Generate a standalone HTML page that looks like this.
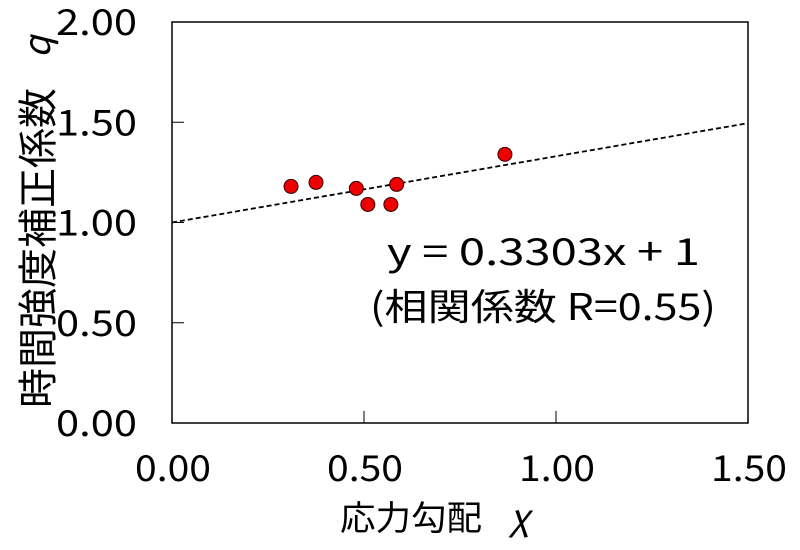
<!DOCTYPE html>
<html><head><meta charset="utf-8"><style>
body{margin:0;background:#fff;}
svg text{font-family:"Noto Sans CJK JP","Liberation Sans",sans-serif;fill:#000;}
</style></head><body>
<svg width="800" height="545">
<g id="g"></g>
</svg>
<script>
const xs=[0.31,0.375,0.48,0.51,0.57,0.585,0.867];
const ys=[1.18,1.20,1.17,1.09,1.09,1.19,1.34];
const xTicks=[0,0.5,1.0,1.5];
const yTicks=[0,0.5,1.0,1.5,2.0];
const slope=0.3303, intercept=1;
const L=172,R=748,T=22,B=423;
const X=v=>L+(v-0)/1.5*(R-L);
const Y=v=>B-(v/2)*(B-T);
const g=document.getElementById('g');
const NS='http://www.w3.org/2000/svg';
function mk(t,a,txt){const e=document.createElementNS(NS,t);for(const k in a)e.setAttribute(k,a[k]);if(txt!=null)e.textContent=txt;g.appendChild(e);return e;}
let e=mk('rect',{x:L,y:T,width:R-L,height:B-T,fill:'none',stroke:'#000','stroke-width':1.5});


xTicks.forEach(v=>{
 const l=mk('line',{x1:X(v),x2:X(v),y1:B,y2:B-12,stroke:'#000','stroke-width':1});
 
 
 const t=mk('text',{x:X(v)-37,y:B+58,'font-size':36,textLength:76,lengthAdjust:'spacingAndGlyphs'},v.toFixed(2));
 
 
});
yTicks.forEach(v=>{
 const l=mk('line',{x1:L,x2:L+12,y1:Y(v),y2:Y(v),stroke:'#000','stroke-width':1});
 
 
 const t=mk('text',{x:56,y:Y(v)+13,'font-size':36,textLength:81,lengthAdjust:'spacingAndGlyphs'},v.toFixed(2));
 
 
});
const tl=mk('line',{x1:X(0),y1:Y(intercept),x2:X(1.5),y2:Y(intercept+slope*1.5),stroke:'#000','stroke-width':1.8,'stroke-dasharray':'5,3'});


xs.forEach((v,i)=>{
 const c=mk('circle',{cx:X(v),cy:Y(ys[i]),r:7,fill:'#ee0000',stroke:'#300','stroke-width':1});
 
 
});
let t=mk('text',{x:387,y:265,'font-size':37,textLength:313,lengthAdjust:'spacingAndGlyphs'},'y = 0.3303x + 1');


t=mk('text',{x:370,y:320,'font-size':37,textLength:346,lengthAdjust:'spacingAndGlyphs'},'(相関係数 R=0.55)');


t=mk('text',{x:340,y:530,'font-size':34,textLength:142,lengthAdjust:'spacingAndGlyphs'},'応力勾配');


t=mk('text',{x:510,y:530,'font-size':36,'font-style':'italic','font-family':'Liberation Serif, serif'},'χ');


t=mk('text',{x:0,y:0,'font-size':40,textLength:320,lengthAdjust:'spacingAndGlyphs',transform:'translate(52,408) rotate(-90)'},'時間強度補正係数');


t=mk('text',{x:0,y:0,'font-size':36,'font-style':'italic','font-family':'Liberation Serif, serif',transform:'translate(50,58) rotate(-90)'},'q');


</script>
</body></html>
